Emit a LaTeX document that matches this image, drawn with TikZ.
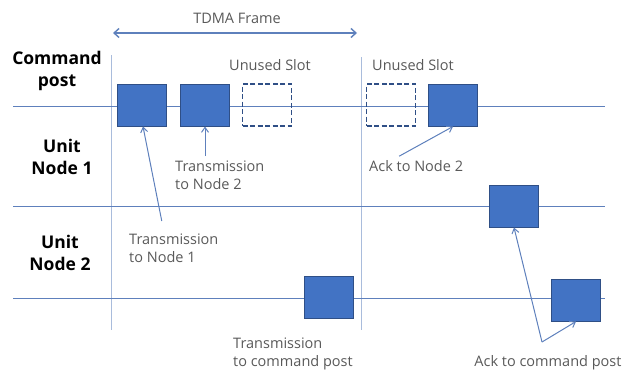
\documentclass[tikz,border=0pt]{standalone}
\usepackage{fontspec}
\setmainfont{Open Sans}
\usetikzlibrary{positioning,arrows.meta}
\definecolor{slotblue}{HTML}{4273C4}
\definecolor{slotedge}{HTML}{2F4F86}
\definecolor{linecol}{HTML}{5E80BC}
\definecolor{vlinecol}{HTML}{A9BCDC}
\definecolor{notecol}{HTML}{595959}
\begin{document}
\begin{tikzpicture}[x=1pt,y=-1pt,
  slot/.style={draw=slotedge,fill=slotblue,line width=1pt,minimum width=49pt,minimum height=42pt,inner sep=0pt},
  freeslot/.style={draw=slotedge,dash pattern=on 5pt off 2.5pt,line width=1.4pt,minimum width=49pt,minimum height=42pt,inner sep=0pt},
  rowname/.style={font=\bfseries\fontsize{17.5}{22}\selectfont,align=center,text=black},
  note/.style={font=\fontsize{14.5}{18}\selectfont,align=left,text=notecol,inner sep=0pt},
  pointer/.style={-{Straight Barb[length=5pt,width=7pt]},draw=linecol,line width=1pt}]
\useasboundingbox (0,0) rectangle (639,372);

\draw[vlinecol,line width=1pt] (111,55) -- (111,330);
\draw[vlinecol,line width=1pt] (361,57) -- (361,330);
\draw[linecol,line width=0.9pt] (13,106) -- (605,106);
\draw[linecol,line width=0.9pt] (13,206) -- (605,206);
\draw[linecol,line width=0.9pt] (13,298) -- (605,298);

\node[note] (frm) at (237,18) {TDMA Frame};
\draw[{Straight Barb[length=5pt,width=9pt]}-{Straight Barb[length=5pt,width=9pt]},linecol,line width=1.4pt] (113,33) -- (357,33);

\node[rowname] (cp) at (57,71) {Command\\post};
\node[rowname] (u1) at (62,157) {Unit\\Node 1};
\node[rowname] (u2) at (60,253) {Unit\\Node 2};

\node[slot] (b1) at (142,105) {};
\node[slot] (b2) at (205,105) {};
\node[freeslot] (f1) at (267,105) {};
\node[freeslot] (f2) at (391,105) {};
\node[slot] (b3) at (453,105) {};
\node[slot] (b4) at (514,206) {};
\node[slot] (b5) at (329,297) {};
\node[slot] (b6) at (576,300) {};

\node[note,anchor=south] (n1) at (270,71) {Unused Slot};
\node[note,anchor=south] (n2) at (413,71) {Unused Slot};

\node[note,anchor=north west] (t2) at (175,161) {Transmission\\to Node 2};
\draw[pointer] ([yshift=5pt]t2.north -| b2) to (b2.south);

\node[note,anchor=north west] (t1) at (129,234) {Transmission\\to Node 1};
\draw[pointer] ([xshift=-12pt,yshift=13pt]t1.north) to ([xshift=1pt]b1.south);

\node[note,anchor=west] (a2) at (369,166) {Ack to Node 2};
\draw[pointer] ([xshift=-17pt,yshift=4pt]a2.north) to (b3.south);

\node[note,anchor=north west] (tc) at (233,338) {Transmission\\to command post};

\node[note] (ac) at (548,363) {Ack to command post};
\coordinate (fork) at (542,342);
\draw[pointer] (fork) to (b4.south);
\draw[pointer] (fork) to (b6.south);
\end{tikzpicture}
\end{document}
